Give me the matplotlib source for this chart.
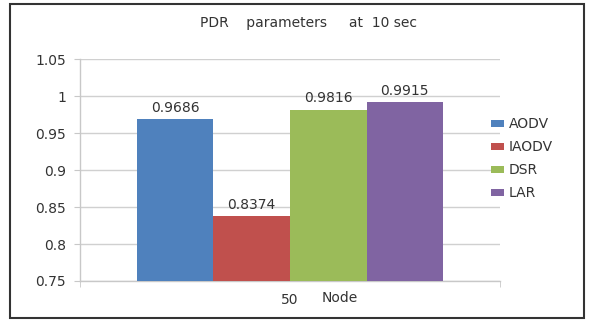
import numpy as np
import matplotlib.pyplot as plt
from matplotlib.patches import Rectangle

plt.rcParams['font.family'] = ['DejaVu Sans']

# PDR values for 50 nodes at 10 sec
protocols = ['AODV', 'IAODV', 'DSR', 'LAR']
pdr = [0.9686, 0.8374, 0.9816, 0.9915]
colors = ['#4F81BD', '#C0504D', '#9BBB59', '#8064A2']
category = '50'

fig = plt.figure(figsize=(5.89, 3.22), dpi=100)
ax = fig.add_axes([80 / 589, 1 - 281 / 322, 420 / 589, 222 / 322])

n = len(pdr)
width = 0.729 / n
offsets = (np.arange(n) - (n - 1) / 2) * width
for off, val, col, name in zip(offsets, pdr, colors, protocols):
    ax.bar(off, val - 0.75, bottom=0.75, width=width, color=col,
           label=name, zorder=3)
    ax.text(off, val + 0.006, f'{val:.4f}', ha='center', va='bottom',
            fontsize=10, color='#333333', zorder=4)

ax.set_xlim(-0.5, 0.5)
ax.set_ylim(0.75, 1.05)
ax.set_yticks(np.arange(0.75, 1.051, 0.05))
ax.set_yticklabels(['0.75', '0.8', '0.85', '0.9', '0.95', '1', '1.05'])
ax.set_xticks([0])
ax.set_xticklabels([category])
ax.set_xticks([-0.5, 0.5], minor=True)

ax.yaxis.grid(True, color='#d0d0d0', linewidth=1, zorder=0)
for s in ['top', 'right']:
    ax.spines[s].set_visible(False)
for s in ['left', 'bottom']:
    ax.spines[s].set_color('#c8c8c8')
    ax.spines[s].set_linewidth(1)
ax.tick_params(axis='y', colors='#c8c8c8', labelcolor='#333333',
               labelsize=10, length=4, pad=6)
ax.tick_params(axis='x', which='major', length=0, labelsize=10,
               labelcolor='#333333', pad=9)
ax.tick_params(axis='x', which='minor', length=4, colors='#c8c8c8')

# axis title sits to the right of the category label
fig.text(340 / 589, 1 - 298 / 322, 'Node', ha='center', va='center',
         fontsize=10, color='#333333')

fig.text(308 / 589, 1 - 23 / 322, 'PDR    parameters     at  10 sec',
         ha='center', va='center', fontsize=10, color='#333333')

leg = ax.legend(loc='center left', bbox_to_anchor=(0.965, 0.55), frameon=False,
                fontsize=10, handlelength=0.95, handleheight=0.45,
                handletextpad=0.35, labelspacing=0.65, borderaxespad=0)
for t in leg.get_texts():
    t.set_color('#333333')

fig.patches.append(Rectangle((10 / 589, 1 - 318 / 322), 574 / 589, 314 / 322,
                             transform=fig.transFigure, fill=False,
                             edgecolor='#333333', linewidth=1.5))

fig.savefig('out.png', dpi=100)
